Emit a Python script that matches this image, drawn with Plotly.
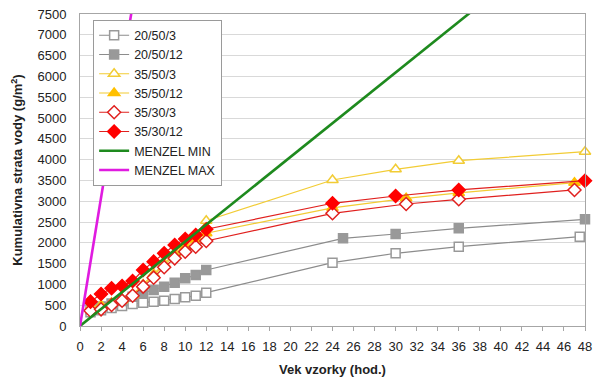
import plotly.graph_objects as go

hours_early = [1, 2, 3, 4, 5, 6, 7, 8, 9, 10, 11, 12]

x_20_50_3 = hours_early + [24, 30, 36, 47.5]
y_20_50_3 = [330, 380, 430, 480, 529, 561, 585, 609, 649, 689, 729, 801, 1522, 1748, 1906, 2147]

x_20_50_12 = hours_early + [25, 30, 36, 48]
y_20_50_12 = [400, 470, 540, 600, 705, 801, 865, 946, 1042, 1146, 1226, 1346, 2108, 2212, 2348, 2565]

x_35_50_3 = hours_early + [24, 30, 36, 48]
y_35_50_3 = [450, 500, 560, 650, 760, 1000, 1250, 1500, 1750, 1950, 2150, 2530, 3510, 3767, 3974, 4190]

x_35_50_12 = hours_early + [24, 31, 36, 47]
y_35_50_12 = [420, 480, 540, 620, 740, 980, 1220, 1450, 1700, 1900, 2080, 2230, 2840, 3070, 3200, 3445]

x_35_30_3 = hours_early + [24, 31, 36, 47]
y_35_30_3 = [368, 401, 505, 609, 729, 946, 1162, 1411, 1627, 1787, 1907, 2043, 2709, 2933, 3046, 3270]

x_35_30_12 = hours_early + [24, 30, 36, 48]
y_35_30_12 = [585, 770, 906, 962, 1082, 1346, 1547, 1747, 1947, 2092, 2188, 2325, 2950, 3125, 3270, 3493]

x_menzel = [0, 48]
y_menzel_min = [0, 9750]
y_menzel_max = [0, 74000]

x_ticks = list(range(0, 50, 2))
y_ticks = list(range(0, 8000, 500))

FONT = "Liberation Sans, Arial, sans-serif"
GREY_LINE = "#8c8c8c"
GREY_FILL = "#999999"
YEL = "#F2CC35"
RED_LINE = "#E0201E"
RED = "#FF0000"

fig = go.Figure()

def add(x, y, name, line_color, symbol, fill, outline, size=9):
    fig.add_trace(go.Scatter(
        x=x, y=y, name=name, mode="lines+markers",
        line=dict(color=line_color, width=1.2),
        marker=dict(symbol=symbol, size=size, color=fill,
                    line=dict(color=outline, width=1.5)),
        cliponaxis=False,
    ))

add(x_20_50_3, y_20_50_3, "20/50/3", GREY_LINE, "square", "white", GREY_FILL, 9)
add(x_20_50_12, y_20_50_12, "20/50/12", GREY_LINE, "square", GREY_FILL, GREY_FILL, 9)
add(x_35_50_3, y_35_50_3, "35/50/3", YEL, "triangle-up", "white", YEL, 10)
add(x_35_50_12, y_35_50_12, "35/50/12", YEL, "triangle-up", "#FFC000", "#FFC000", 10)
add(x_35_30_3, y_35_30_3, "35/30/3", RED_LINE, "diamond", "white", RED_LINE, 10)
add(x_35_30_12, y_35_30_12, "35/30/12", RED_LINE, "diamond", RED, RED, 10)

fig.add_trace(go.Scatter(x=x_menzel, y=y_menzel_min, name="MENZEL MIN",
                         mode="lines", line=dict(color="#1E8A1E", width=2.6)))
fig.add_trace(go.Scatter(x=x_menzel, y=y_menzel_max, name="MENZEL MAX",
                         mode="lines", line=dict(color="#E01BE0", width=2.6)))

fig.update_layout(
    width=603, height=384,
    margin=dict(l=80, r=18, t=14, b=58),
    paper_bgcolor="white", plot_bgcolor="white",
    font=dict(family=FONT, size=13, color="#222222"),
    showlegend=True,
    legend=dict(
        x=0.026, y=0.982, xanchor="left", yanchor="top",
        bgcolor="white", bordercolor="#9a9a9a", borderwidth=1,
        font=dict(family=FONT, size=12.5, color="#222222"),
        tracegroupgap=0, itemwidth=30,
    ),
    xaxis=dict(
        range=[0, 48], tickvals=x_ticks, ticktext=[str(t) for t in x_ticks],
        showgrid=False, zeroline=False,
        showline=True, linecolor="#a6a6a6", linewidth=1, mirror=True,
        ticks="outside", ticklen=4, tickcolor="#a6a6a6", ticklabelstandoff=4,
        tickfont=dict(size=13, color="#222222"),
        automargin=False,
        title=dict(text="<b>Vek vzorky (hod.)</b>", font=dict(size=13), standoff=12),
    ),
    yaxis=dict(
        range=[0, 7500], tickvals=y_ticks, ticktext=[str(t) for t in y_ticks],
        showgrid=True, gridcolor="#d9d9d9", gridwidth=1, zeroline=False,
        showline=True, linecolor="#a6a6a6", linewidth=1, mirror=True,
        ticks="", ticklabelstandoff=10, tickfont=dict(size=13, color="#222222"),
        automargin=False,
        title=dict(text="<b>Kumulativna strata vody (g/m<sup>2</sup>)</b>", font=dict(size=13), standoff=11),
    ),
)

fig.write_html("out.html", config={"displayModeBar": False},
               post_script="document.body.style.margin='0';")
